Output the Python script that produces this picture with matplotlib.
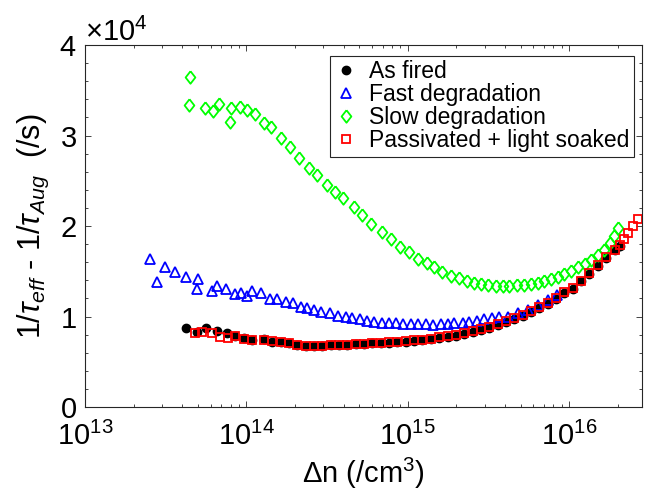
import numpy as np
import matplotlib
matplotlib.use('Agg')
import matplotlib.pyplot as plt
from matplotlib.ticker import LogLocator, MultipleLocator

plt.rcParams['font.family'] = ['Liberation Sans', 'DejaVu Sans']
plt.rcParams['mathtext.fontset'] = 'custom'
plt.rcParams['mathtext.rm'] = 'Liberation Sans'
plt.rcParams['mathtext.it'] = 'Liberation Sans:italic'
plt.rcParams['mathtext.bf'] = 'Liberation Sans:bold'

# As fired
dn_fired = [4.24e13, 4.94e13, 5.64e13, 6.58e13, 7.59e13, 8.55e13, 9.62e13, 1.085e14,
            1.28e14, 1.44e14, 1.63e14, 1.83e14, 2.07e14, 2.33e14, 2.62e14, 2.95e14,
            3.33e14, 3.74e14, 4.22e14, 4.75e14, 5.35e14, 6.04e14, 6.80e14, 7.65e14,
            8.63e14, 9.72e14, 1.094e15, 1.234e15, 1.39e15, 1.565e15, 1.765e15, 1.987e15,
            2.237e15, 2.52e15, 2.84e15, 3.2e15, 3.61e15, 4.06e15, 4.57e15, 5.16e15,
            5.81e15, 6.54e15, 7.37e15, 8.30e15, 9.35e15, 1.054e16, 1.187e16, 1.337e16,
            1.508e16, 1.698e16, 1.911e16, 2.053e16]
r_fired = [8700, 8320, 8700, 8400, 8140, 7850, 7590, 7400,
           7480, 7220, 7220, 7040, 6850, 6740, 6740, 6740,
           6820, 6850, 6850, 6930, 6960, 7040, 7040, 7110,
           7150, 7220, 7290, 7400, 7480, 7590, 7700, 7880,
           8070, 8290, 8510, 8760, 9060, 9390, 9720, 10090,
           10500, 10940, 11410, 11970, 12600, 13090, 13870, 14700,
           15580, 16460, 17350, 17820]

# Fast degradation
dn_fast = [2.53e13, 2.79e13, 3.11e13, 3.59e13, 4.24e13, 4.98e13, 4.94e13, 6.12e13,
           6.58e13, 7.51e13, 8.55e13, 9.27e13, 1.01e14, 1.09e14, 1.23e14, 1.40e14,
           1.55e14, 1.75e14, 1.95e14, 2.17e14, 2.38e14, 2.62e14, 2.91e14, 3.29e14,
           3.69e14, 4.12e14, 4.54e14, 5.03e14, 5.62e14, 6.18e14, 6.90e14, 7.65e14,
           8.42e14, 9.40e14, 1.04e15, 1.16e15, 1.29e15, 1.44e15, 1.60e15, 1.77e15,
           1.94e15, 2.19e15, 2.40e15, 2.68e15, 2.98e15, 3.33e15, 3.69e15, 4.16e15,
           4.80e15, 5.54e15, 6.39e15, 7.37e15, 8.42e15]
r_fast = [16350, 13850, 15440, 14880, 14330, 14110, 13040, 12850,
          13400, 13010, 12490, 12560, 12270, 12850, 12630, 11930,
          11900, 11570, 11460, 11080, 10910, 10720, 10530, 10350,
          10060, 9910, 9800, 9690, 9500, 9430, 9320, 9250,
          9250, 9170, 9170, 9140, 9140, 9060, 9140, 9170,
          9250, 9320, 9430, 9540, 9670, 9800, 9950, 9980,
          10350, 10720, 11270, 11820, 12380]

# Slow degradation
dn_slow = [4.44e13, 4.49e13, 5.56e13, 6.17e13, 6.80e13, 7.88e13, 8.07e13, 9.09e13,
           1.01e14, 1.13e14, 1.28e14, 1.43e14, 1.64e14, 1.86e14, 2.11e14, 2.44e14,
           2.72e14, 3.14e14, 3.54e14, 3.96e14, 4.64e14, 5.23e14, 5.95e14, 6.90e14,
           7.84e14, 8.96e14, 1.02e15, 1.16e15, 1.31e15, 1.46e15, 1.64e15, 1.85e15,
           2.08e15, 2.33e15, 2.58e15, 2.84e15, 3.15e15, 3.52e15, 3.87e15, 4.26e15,
           4.75e15, 5.28e15, 5.81e15, 6.39e15, 7.02e15, 7.73e15, 8.51e15, 9.35e15,
           1.03e16, 1.13e16, 1.25e16, 1.37e16, 1.51e16, 1.64e16, 1.78e16, 1.91e16,
           2.01e16]
r_slow = [33370, 36470, 33070, 32740, 33480, 31530, 33070, 33180,
          32820, 32340, 31350, 30970, 29690, 28760, 27550, 26380,
          25640, 24530, 23790, 23130, 22070, 21270, 20220, 19370,
          18510, 17660, 17160, 16350, 15880, 15440, 14950, 14510,
          14220, 13960, 13740, 13590, 13480, 13400, 13370, 13370,
          13450, 13510, 13590, 13740, 13920, 14140, 14400, 14700,
          15060, 15440, 15800, 16240, 16800, 17350, 18090, 18900,
          19750]

# Passivated + light soaked
dn_pass = [4.82e13, 5.31e13, 6.12e13, 6.83e13, 7.70e13, 8.55e13, 9.62e13, 1.085e14,
           1.28e14, 1.44e14, 1.63e14, 1.83e14, 2.07e14, 2.33e14, 2.62e14, 2.95e14,
           3.33e14, 3.74e14, 4.22e14, 4.75e14, 5.35e14, 6.04e14, 6.80e14, 7.65e14,
           8.63e14, 9.72e14, 1.094e15, 1.234e15, 1.39e15, 1.565e15, 1.765e15, 1.987e15,
           2.237e15, 2.52e15, 2.84e15, 3.2e15, 3.61e15, 4.06e15, 4.57e15, 5.16e15,
           5.81e15, 6.54e15, 7.37e15, 8.30e15, 9.35e15, 1.054e16, 1.187e16, 1.337e16,
           1.508e16, 1.698e16, 1.911e16, 2.053e16, 2.187e16, 2.316e16, 2.487e16, 2.672e16]
r_pass = [8140, 8320, 8210, 7770, 7660, 7800, 7560, 7400,
          7400, 7250, 7180, 7040, 6900, 6780, 6760, 6780,
          6850, 6880, 6900, 6960, 7000, 7070, 7100, 7150,
          7200, 7280, 7350, 7450, 7550, 7680, 7800, 7980,
          8180, 8400, 8620, 8880, 9180, 9500, 9830, 10200,
          10600, 11050, 11520, 12080, 12700, 13200, 13950, 14780,
          15650, 16520, 17400, 17900, 18530, 19260, 20000, 20740]

# matlab style diamond (a bit narrower than tall)
diamond = [(0, 1), (0.78, 0), (0, -1), (-0.78, 0), (0, 1)]

fig = plt.figure(figsize=(6.45, 5), dpi=100)
ax = fig.add_axes([0.1318, 0.186, 0.8636, 0.724])

ax.plot(dn_fired, r_fired, 'o', color='k', markersize=6, label='As fired')
ax.plot(dn_fast, r_fast, '^', color='b', markerfacecolor='none', markersize=7,
        markeredgewidth=1.3, label='Fast degradation')
ax.plot(dn_slow, r_slow, linestyle='none', marker=diamond, color=(0, 1, 0),
        markerfacecolor='none', markersize=9, markeredgewidth=1.3,
        label='Slow degradation')
ax.plot(dn_pass, r_pass, 's', color='r', markerfacecolor='none', markersize=6,
        markeredgewidth=1.3, label='Passivated + light soaked')

ax.set_xscale('log')
ax.set_xlim(1e13, 2.83e16)
ax.set_ylim(0, 4e4)
ax.xaxis.set_major_locator(LogLocator(base=10, numticks=10))
ax.xaxis.set_minor_locator(LogLocator(base=10, subs=np.arange(2, 10), numticks=10))
ax.yaxis.set_major_locator(MultipleLocator(1e4))
ax.yaxis.set_minor_locator(MultipleLocator(2e3))
ax.ticklabel_format(axis='y', style='sci', scilimits=(0, 0), useMathText=True)
ax.yaxis.get_offset_text().set_fontsize(21)

gray = (0.15, 0.15, 0.15)
for s in ax.spines.values():
    s.set_color(gray)
    s.set_linewidth(0.8)
ax.tick_params(which='both', direction='in', top=True, right=True, colors=gray,
               labelcolor='k', labelsize=21)
ax.tick_params(which='major', length=4, width=0.6)
ax.tick_params(which='minor', length=2.5, width=0.6)
ax.tick_params(axis='x', which='major', pad=11)
ax.tick_params(axis='y', which='major', pad=6)

ax.set_xlabel(r'$\Delta$n (/cm$^3$)', fontsize=21, labelpad=3)
ax.set_ylabel(r'1/$\tau_{eff}$ - 1/$\tau_{Aug}$  (/s)', fontsize=22, labelpad=6)

leg = ax.legend(loc='upper right', bbox_to_anchor=(0.986, 0.97), borderaxespad=0,
                fontsize=16.5, labelspacing=0, handlelength=1.0, handletextpad=0.5,
                borderpad=0.2, fancybox=False, framealpha=1)
leg.get_frame().set_edgecolor(gray)
leg.get_frame().set_linewidth(0.8)

plt.savefig('out.png', dpi=100)
